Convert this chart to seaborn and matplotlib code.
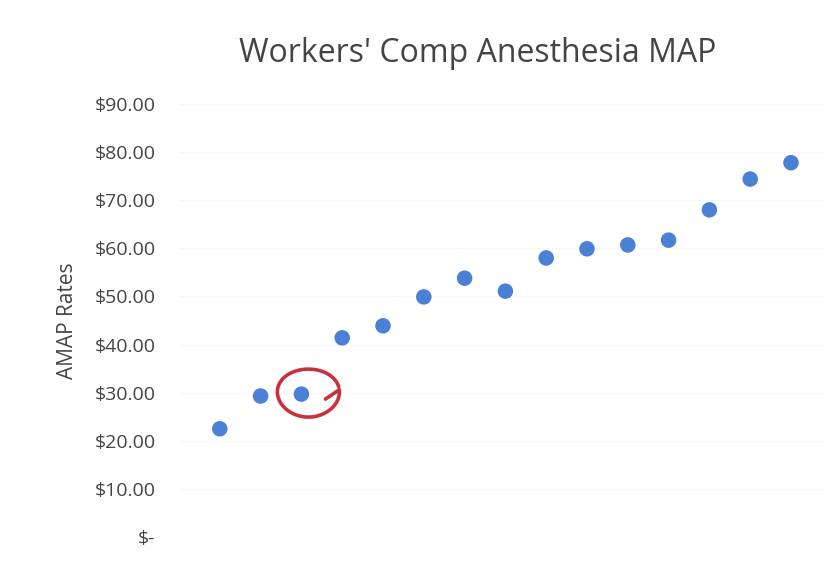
import numpy as np
import matplotlib
matplotlib.use("Agg")
import matplotlib.pyplot as plt
import seaborn as sns
import pandas as pd
from matplotlib.lines import Line2D

# Data
codes = list(range(1, 16))
rates = [22.5, 29.3, 29.7, 41.4, 43.9, 49.9, 53.8, 51.1, 58.0, 59.9, 60.7, 61.7, 68.0, 74.4, 77.8]
y_ticks = [0, 10, 20, 30, 40, 50, 60, 70, 80, 90]
y_tick_labels = ["$-", "$10.00", "$20.00", "$30.00", "$40.00", "$50.00",
                 "$60.00", "$70.00", "$80.00", "$90.00"]
title = "Workers' Comp Anesthesia MAP"
ylabel = "AMAP Rates"
highlight_index = 2

sns.set_theme(style="white")
plt.rcParams['font.family'] = ['Open Sans', 'DejaVu Sans']

W, H = 824, 566
fig = plt.figure(figsize=(W / 100, H / 100), dpi=100)
left_px, right_px, top_px, bottom_px = 179, 824, 104, 537
ax = fig.add_axes([left_px / W, (H - bottom_px) / H,
                   (right_px - left_px) / W, (bottom_px - top_px) / H])

df = pd.DataFrame({"code": codes, "rate": rates})
sns.scatterplot(data=df, x="code", y="rate", ax=ax, color="#4a80d6",
                s=125, edgecolor="none", linewidth=0, zorder=3)

ax.set_xlim(0, (right_px - left_px) / 40.8)
ax.set_ylim(0, 90)
ax.set_yticks(y_ticks)
ax.set_yticklabels(y_tick_labels, fontsize=14, color="#444444")
ax.set_xticks([])
ax.set_xlabel("")
ax.set_ylabel(ylabel, fontsize=15, color="#444444", labelpad=12)
ax.yaxis.grid(True, color="#f7f7f7", linewidth=0.8)
ax.tick_params(axis="y", length=0, pad=17)
for s in ax.spines.values():
    s.set_visible(False)

fig.text(478 / W, (H - 53) / H, title, ha="center", va="center",
         fontsize=23, color="#444444")

# hand-drawn red circle around the highlighted point
fig.canvas.draw()
cx, cy = ax.transData.transform((codes[highlight_index], rates[highlight_index]))
cx += 7
cy += 1
t = np.linspace(np.deg2rad(15), np.deg2rad(368), 200)
rx, ry = 31, 24
xs = cx + rx * np.cos(t) * (1 + 0.05 * np.sin(t))
ys = cy + ry * np.sin(t)
xs = np.concatenate([xs, [cx + 17]])
ys = np.concatenate([ys, [cy - 6]])
fig.lines.append(Line2D(xs, ys, transform=None, color="#c8323f",
                        linewidth=2.6, solid_capstyle="round", solid_joinstyle="round"))

fig.savefig("out.png", dpi=100)
